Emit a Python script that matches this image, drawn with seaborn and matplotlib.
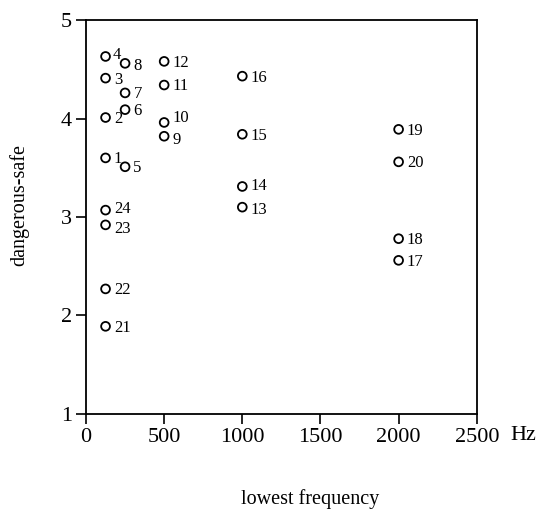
import matplotlib
matplotlib.use("Agg")
import matplotlib.pyplot as plt
import seaborn as sns
import pandas as pd

# data
ids = list(range(1, 25))
freq_hz = [125, 125, 125, 125, 250, 250, 250, 250,
           500, 500, 500, 500, 1000, 1000, 1000, 1000,
           2000, 2000, 2000, 2000, 125, 125, 125, 125]
danger_safe = [3.60, 4.01, 4.41, 4.63, 3.51, 4.09, 4.26, 4.56,
               3.82, 3.96, 4.34, 4.58, 3.10, 3.31, 3.84, 4.43,
               2.56, 2.78, 3.89, 3.56, 1.89, 2.27, 2.92, 3.07]
x_ticks = [0, 500, 1000, 1500, 2000, 2500]
y_ticks = [1, 2, 3, 4, 5]

df = pd.DataFrame({"id": ids, "freq": freq_hz, "rating": danger_safe})

sns.set_theme(style="white")
plt.rcParams["font.family"] = ["Liberation Serif", "DejaVu Serif"]

fig = plt.figure(figsize=(5.43, 5.16), dpi=100)
ax = fig.add_axes([0.1584, 0.1977, 0.7196, 0.7635])

sns.scatterplot(data=df, x="freq", y="rating", ax=ax, marker="o", s=40,
                facecolors="none", edgecolor="black", linewidth=1.3, legend=False)

# small label nudges (points) for crowded labels
nudge = {10: (6, 3), 9: (6, -3), 4: (5, 1), 8: (6, -2),
         24: (6, 1), 23: (6, -3), 14: (6, 0), 13: (6, -2)}
for i, xv, yv in zip(df["id"], df["freq"], df["rating"]):
    dx, dy = nudge.get(int(i), (6, -1))
    ax.annotate(str(i), (xv, yv), xytext=(dx, dy), textcoords="offset points",
                ha="left", va="center", fontsize=12, color="black")

ax.set_xlim(0, 2500)
ax.set_ylim(1, 5)
ax.set_xticks(x_ticks)
ax.set_yticks(y_ticks)
ax.set_xticklabels([str(t) for t in x_ticks], fontsize=16)
ax.set_yticklabels([str(t) for t in y_ticks], fontsize=16)
ax.tick_params(axis="both", direction="out", length=7, width=1.2, color="black",
               pad=3, bottom=True, left=True, labelcolor="black")

for sp in ax.spines.values():
    sp.set_visible(True)
    sp.set_color("black")
    sp.set_linewidth(1.3)

ax.set_xlabel("lowest frequency", fontsize=14.5, color="black")
ax.xaxis.set_label_coords(0.573, -0.19)
ax.set_ylabel("dangerous-safe", fontsize=14.5, color="black")
ax.yaxis.set_label_coords(-0.145, 0.53)

ax.text(1.085, -0.055, "Hz", transform=ax.transAxes, fontsize=16,
        ha="left", va="center", color="black")

fig.savefig("out.png", dpi=100)
